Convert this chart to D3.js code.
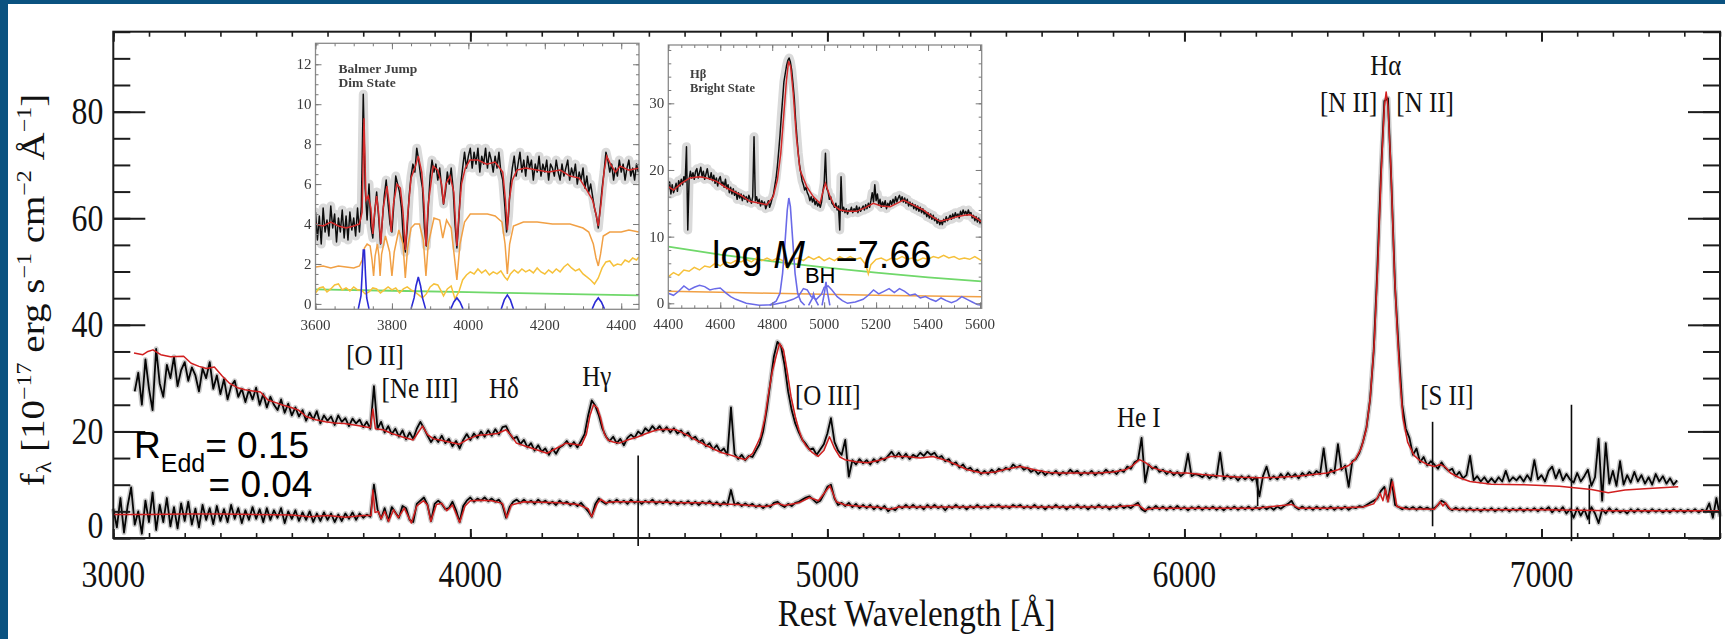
<!DOCTYPE html>
<html>
<head>
<meta charset="utf-8">
<script src="https://cdn.jsdelivr.net/npm/d3@7/dist/d3.min.js"></script>
<style>
  html, body { margin: 0; padding: 0; background: #ffffff; }
  svg { display: block; }
  text { white-space: pre; }
</style>
</head>
<body>
<svg id="chart" width="1725" height="639"></svg>
<script>
// ---------------------------------------------------------------
// Spectra (rest wavelength in Å, flux in 1e-17 erg/s/cm^2/Å)
// ---------------------------------------------------------------
const gridStep = 10;          // sampling of the observed spectra
const brightStart = 3060;     // bright state, observed
const brightFlux = [
  27.5,31.0,25.0,33.5,28.0,24.0,35.5,29.0,26.5,32.5,
  30.0,34.0,28.5,31.5,33.0,29.5,32.0,30.5,27.5,31.8,
  30.0,33.0,28.0,30.5,27.0,29.8,26.0,28.5,29.5,26.5,
  28.0,25.5,27.8,26.0,28.2,25.0,27.0,24.5,26.5,25.0,
  24.0,26.0,23.5,25.2,23.0,24.5,22.8,24.0,22.0,23.5,
  22.2,23.8,21.5,23.0,22.0,22.8,21.2,23.0,21.8,22.5,
  21.0,22.4,21.5,22.2,20.8,21.8,20.5,28.5,20.5,21.8,
  19.8,21.0,19.5,20.5,19.0,20.2,18.5,19.8,18.6,20.5,
  21.8,20.6,19.2,18.0,19.0,18.0,19.2,17.8,18.6,17.2,
  18.2,16.8,18.4,19.5,18.4,19.6,18.8,20.0,19.0,20.2,
  19.2,20.4,19.4,20.8,21.0,19.6,18.6,19.0,17.6,18.4,
  17.0,17.8,16.4,17.4,16.2,16.8,15.6,16.8,15.8,17.0,
  17.4,18.2,17.2,18.0,17.0,18.2,19.5,23.0,25.8,24.8,
  23.0,20.5,19.0,18.2,19.0,17.8,18.6,17.4,18.8,19.4,
  18.8,20.0,19.4,20.6,20.0,21.0,20.2,21.0,20.0,20.8,
  19.8,20.6,19.6,20.2,19.2,19.8,18.6,19.0,18.0,18.4,
  17.2,17.8,16.6,17.4,16.2,16.8,15.6,24.5,15.8,14.8,
  15.6,14.6,15.4,15.2,16.4,17.6,20.0,24.0,29.0,34.0,
  36.8,36.0,32.5,27.5,24.0,21.5,19.8,18.4,17.6,16.6,
  16.8,15.6,16.6,17.6,19.6,22.5,18.0,16.4,15.6,18.4,
  11.5,14.6,13.8,14.8,14.0,14.6,13.8,14.8,14.2,15.0,
  14.6,15.4,16.2,15.2,16.0,15.0,15.8,14.8,15.6,15.2,
  16.0,15.4,16.2,15.6,16.0,15.0,15.4,14.4,14.8,13.8,
  14.2,13.2,13.8,12.8,13.2,12.4,12.8,12.0,12.6,12.0,
  12.8,12.2,13.0,12.6,13.2,12.8,13.8,13.2,13.6,12.8,
  13.2,12.4,12.8,12.0,12.6,11.8,12.4,12.0,12.6,11.8,
  12.4,12.0,12.8,12.2,12.6,11.8,12.4,12.0,12.6,11.8,
  12.4,12.0,12.8,12.2,12.6,12.0,12.8,12.4,13.4,13.0,
  14.2,14.6,18.8,10.5,13.8,13.0,13.4,12.4,12.8,12.0,
  12.6,11.8,12.4,11.6,12.2,15.8,11.6,12.0,11.8,11.4,
  12.0,11.2,11.8,11.4,16.0,11.0,11.8,11.2,11.6,10.8,
  11.6,11.0,11.6,10.8,11.4,7.8,11.6,13.4,11.0,11.6,
  11.0,12.0,11.2,12.2,11.4,12.0,11.2,12.2,11.6,12.4,
  11.8,12.6,12.0,16.8,11.6,12.8,12.2,17.6,12.8,13.6,
  9.6,14.4,14.8,16.0,18.0,20.8,26.0,35.0,50.0,68.0,
  82.0,82.5,66.0,47.0,35.5,25.0,20.5,18.8,15.6,16.8,
  14.2,15.2,13.6,14.4,13.8,13.0,14.2,13.2,12.6,13.0,
  11.6,12.4,11.2,11.8,15.4,10.8,11.6,10.6,11.4,10.4,
  11.2,10.4,11.4,10.6,12.6,10.6,11.4,10.8,11.6,10.6,
  11.8,10.8,14.6,11.0,11.8,10.6,12.6,13.4,11.2,12.8,
  10.8,12.0,11.0,10.4,12.2,10.6,11.6,12.8,9.8,11.4,
  18.6,7.0,17.8,10.2,12.6,9.8,14.4,10.0,11.8,10.4,
  12.4,10.6,11.8,10.2,11.4,10.0,12.0,10.6,11.6,10.2,
  11.2,10.0,10.8
];

const dimStart = 3000;        // dim state, observed
const dimFlux = [
  5.5,2.0,7.5,1.0,6.0,9.5,2.5,5.0,0.8,7.0,
  3.0,8.5,1.5,6.2,3.0,7.5,2.2,5.8,1.8,6.5,
  3.2,6.8,2.5,5.5,2.0,6.2,3.4,5.6,2.6,6.0,
  3.2,5.4,3.0,6.2,3.6,5.6,2.8,5.2,3.4,5.8,
  3.6,5.4,3.0,5.6,3.4,5.2,3.8,5.6,2.8,5.0,
  3.6,5.2,3.2,4.8,3.4,5.0,3.0,4.6,3.2,4.8,
  3.4,4.6,3.0,4.4,3.2,4.6,3.6,4.8,3.4,4.6,
  3.8,4.4,4.0,10.0,5.4,3.6,5.6,3.2,5.8,4.8,
  3.8,6.0,5.6,3.4,3.0,6.4,7.0,7.6,6.2,3.2,
  6.4,7.0,6.4,5.4,5.6,6.8,5.2,3.0,6.0,7.0,
  7.6,6.8,7.4,7.0,7.6,6.9,7.4,6.8,7.2,6.2,
  3.8,5.8,6.8,7.2,6.6,7.2,6.6,7.0,6.4,7.2,
  6.6,7.0,6.4,6.8,6.2,7.0,6.4,6.8,6.2,6.6,
  6.0,6.6,5.8,5.0,4.0,6.4,7.4,6.8,6.4,7.0,
  6.6,7.2,6.6,7.0,6.4,7.2,6.6,7.0,6.4,7.0,
  6.6,7.2,6.4,6.9,6.5,7.1,6.4,6.9,6.3,6.8,
  6.4,6.9,6.3,6.8,6.2,6.8,6.4,6.9,6.2,6.7,
  6.1,6.7,6.2,9.0,6.2,6.6,6.0,6.5,6.0,6.4,
  5.8,6.2,5.6,6.2,5.8,6.6,6.8,6.2,5.8,6.4,
  6.0,6.6,6.8,7.2,7.6,7.8,7.2,6.6,7.0,8.2,
  9.6,10.0,7.4,6.2,6.6,6.0,6.6,5.8,6.4,5.6,
  6.2,5.6,6.2,5.4,6.0,5.4,6.0,5.0,5.6,5.2,
  6.0,5.6,6.2,5.6,6.2,5.6,6.0,5.4,6.2,5.6,
  6.2,5.6,6.0,5.2,6.0,5.6,6.2,5.6,6.0,5.4,
  6.0,5.6,6.2,5.6,6.0,5.6,6.2,5.8,6.2,5.6,
  6.0,5.6,6.2,5.8,6.2,5.6,6.0,5.6,6.2,5.6,
  6.0,5.4,6.0,5.6,6.2,5.6,6.0,5.4,6.0,5.6,
  6.2,5.6,6.0,5.4,6.0,5.6,6.2,5.6,6.0,5.4,
  6.0,5.6,6.2,5.6,6.0,5.6,6.2,6.6,5.4,5.0,
  5.8,5.4,6.0,5.4,5.9,5.3,5.9,5.4,6.0,5.4,
  5.8,5.2,5.8,5.4,5.9,5.3,5.8,5.4,5.9,5.3,
  5.8,5.2,5.8,5.4,5.9,5.3,5.8,5.4,5.9,5.3,
  5.8,5.4,5.9,5.4,5.8,5.3,5.9,5.5,6.0,6.4,
  7.0,5.8,5.4,5.9,5.4,5.8,5.3,5.9,5.4,5.8,
  5.4,5.9,5.3,5.8,5.4,5.9,5.3,5.8,5.6,6.0,
  5.8,6.2,6.6,7.0,7.4,8.8,9.6,7.0,11.0,6.2,
  5.8,5.4,5.8,5.4,5.8,5.3,5.8,5.4,5.7,5.3,
  5.6,6.2,7.0,6.6,5.6,5.2,5.7,5.2,5.6,5.1,
  5.6,5.1,5.5,5.0,5.5,5.1,5.6,5.0,5.5,5.1,
  5.6,5.0,5.5,5.1,5.6,5.0,5.5,5.1,5.6,5.0,
  5.6,5.2,5.8,4.8,5.6,5.0,5.8,4.6,5.4,3.8,
  5.6,4.2,5.4,3.6,5.8,4.6,2.8,5.4,4.6,5.6,
  4.8,5.4,4.8,5.2,4.6,5.4,4.8,5.4,4.9,5.3,
  4.8,5.4,4.9,5.3,4.8,5.3,4.8,5.4,4.9,5.3,
  4.8,5.3,4.9,5.4,4.8,5.3,5.0,6.5,3.8,7.5,
  4.0
];

// best-fit models [wavelength, flux]
const brightModel = [
  [3058,34.7],[3083,34.4],[3097,35.0],[3111,35.3],[3133,34.4],[3160,34.0],[3197,34.1],[3218,32.8],
  [3240,32.2],[3261,31.8],[3283,32.1],[3305,30.4],[3326,29.0],[3348,28.2],[3369,27.8],[3390,27.6],
  [3412,27.4],[3433,25.9],[3455,25.4],[3476,24.9],[3498,24.5],[3519,24.0],[3540,22.8],[3567,22.2],
  [3594,21.8],[3620,21.6],[3647,21.5],[3675,21.2],[3701,20.9],[3720,20.7],[3727,24.2],[3734,20.5],
  [3755,20.3],[3780,19.6],[3808,19.0],[3840,18.4],[3852,19.6],[3866,21.0],[3880,19.4],[3897,18.6],
  [3915,18.4],[3940,18.0],[3969,17.6],[3995,18.6],[4022,19.3],[4050,19.4],[4076,19.6],[4100,20.3],
  [4115,19.2],[4129,17.8],[4155,17.2],[4183,16.6],[4215,15.9],[4240,16.8],[4268,17.8],[4290,17.6],
  [4311,17.4],[4325,19.5],[4335,23.0],[4345,25.0],[4356,24.4],[4365,22.5],[4375,19.6],[4385,18.4],
  [4400,18.0],[4417,17.8],[4440,18.4],[4470,19.0],[4500,19.8],[4524,20.3],[4550,20.4],[4577,20.3],
  [4605,19.4],[4631,18.4],[4657,17.5],[4684,16.6],[4705,16.0],[4727,15.6],[4750,15.1],[4770,14.7],
  [4791,15.9],[4813,19.0],[4825,22.5],[4834,26.6],[4845,31.0],[4856,34.0],[4866,36.5],[4877,35.3],
  [4888,31.0],[4898,26.6],[4910,22.8],[4920,20.3],[4930,18.4],[4941,17.2],[4958,16.0],[4974,15.3],
  [4990,16.4],[5006,19.0],[5020,16.8],[5035,15.2],[5049,14.7],[5080,14.3],[5113,14.1],[5145,14.6],
  [5177,15.3],[5220,15.3],[5260,15.0],[5295,15.3],[5327,14.7],[5360,13.8],[5392,12.8],[5434,12.2],
  [5470,12.4],[5505,13.0],[5541,13.4],[5580,12.8],[5620,12.3],[5649,12.2],[5700,12.2],[5756,12.2],
  [5800,12.4],[5835,12.8],[5855,13.6],[5874,14.7],[5890,14.2],[5910,13.2],[5940,12.6],[5970,12.2],
  [6006,12.2],[6050,11.9],[6109,11.6],[6160,11.4],[6211,11.3],[6260,11.4],[6314,11.6],[6360,11.9],
  [6400,12.2],[6430,12.8],[6460,13.6],[6478,14.7],[6495,16.8],[6509,20.3],[6520,26.0],[6532,37.0],
  [6542,52.0],[6552,70.0],[6560,81.0],[6565,83.7],[6570,81.0],[6578,70.0],[6588,50.0],[6596,39.0],
  [6605,28.5],[6612,22.5],[6625,18.0],[6643,15.5],[6660,14.5],[6680,13.8],[6700,13.4],[6716,13.8],
  [6731,13.3],[6745,12.2],[6770,11.3],[6800,10.6],[6860,10.1],[6950,10.0],[7050,9.7],[7140,9.1],
  [7187,8.5],[7234,9.0],[7300,9.3],[7383,9.6]
];

const dimModel = [
  [3000,4.4],[3100,4.4],[3200,4.5],[3300,4.5],[3400,4.4],[3500,4.3],[3550,4.0],[3600,4.2],[3650,3.9],
  [3700,4.2],[3722,4.2],[3727,9.0],[3733,4.8],[3742,5.0],[3750,3.6],[3760,5.0],[3771,3.1],[3785,5.3],
  [3798,3.8],[3815,5.6],[3835,2.8],[3850,6.0],[3869,7.0],[3880,6.2],[3889,3.1],[3905,6.3],[3920,6.5],
  [3934,5.1],[3950,6.2],[3970,2.9],[3985,6.0],[4000,7.0],[4030,7.1],[4060,7.0],[4090,6.5],[4102,3.8],
  [4115,6.2],[4150,6.8],[4200,6.7],[4250,6.6],[4300,6.3],[4330,5.5],[4340,4.0],[4355,6.4],[4365,7.3],
  [4380,6.6],[4400,6.8],[4450,6.8],[4500,6.8],[4550,6.7],[4600,6.6],[4650,6.6],[4700,6.4],[4750,6.3],
  [4800,6.0],[4830,5.9],[4861,6.5],[4880,6.1],[4920,6.6],[4950,7.6],[4975,7.0],[5007,9.8],[5025,6.8],
  [5050,6.2],[5100,5.9],[5150,5.7],[5177,5.4],[5200,5.8],[5300,5.8],[5400,5.8],[5500,5.9],[5600,5.8],
  [5700,5.8],[5800,5.8],[5870,6.2],[5890,5.3],[5910,5.6],[6000,5.6],[6100,5.6],[6200,5.6],[6300,6.3],
  [6320,5.6],[6400,5.6],[6500,5.8],[6530,6.4],[6548,8.4],[6556,7.0],[6563,9.2],[6570,6.8],[6583,10.6],
  [6595,5.9],[6620,5.5],[6700,5.4],[6716,6.8],[6724,6.0],[6731,6.6],[6745,5.4],[6800,5.3],[6900,5.3],
  [7000,5.3],[7100,5.2],[7200,5.1],[7300,5.1],[7400,5.1],[7500,5.1]
];

// single-pixel artefacts: [wavelength, low flux, high flux]
const artifactLines = [[4470,-1.5,15.5],[6205,6.0,11.4],[6695,2.2,21.8],[7084,-0.6,25.0],[7134,2.6,10.0]];

// emission-line identifications: name, wavelength, flux level of the label baseline
const lineNames  = ["[O II]","[Ne III]","Hδ","Hγ","[O III]","He I","Hα","[N II]","[N II]","[S II]"];
const lineWaves  = [3733, 3859, 4094, 4354, 5001, 5872, 6564, 6460, 6674, 6735];
const lineLevels = [32.5, 26.3, 26.3, 28.6, 25.0, 20.9, 86.9, 79.9, 79.9, 25.0];

const xMajorTicks = [3000, 4000, 5000, 6000, 7000];
const yMajorTicks = [0, 20, 40, 60, 80];

// ---------------------------------------------------------------
// Inset 1: Balmer-jump region, dim state
// ---------------------------------------------------------------
const inset1Step = 5, inset1Start = 3600;
const inset1Flux = [
  4.6,3.2,4.4,3.0,4.8,3.6,4.2,3.4,4.9,3.8,
  4.5,3.1,4.3,3.6,4.7,3.3,4.4,3.2,4.6,3.7,
  4.3,3.4,4.8,3.6,4.9,10.5,5.8,4.2,6.0,3.9,
  3.3,4.6,5.6,4.4,3.0,4.2,5.4,6.2,5.0,4.0,
  3.6,5.0,6.4,6.0,5.6,4.8,3.2,2.6,3.8,5.4,
  6.4,7.0,6.6,7.8,7.2,6.4,5.8,3.8,2.9,4.8,
  6.4,7.2,6.6,7.0,6.2,6.8,5.8,5.0,5.6,6.6,
  6.0,6.8,5.8,4.0,2.8,4.2,6.0,6.8,7.6,6.8,
  7.4,7.8,6.8,7.6,7.0,7.8,6.6,7.4,7.0,7.8,
  6.8,7.6,7.2,6.6,7.4,6.8,7.6,6.6,6.2,5.0,
  3.6,4.4,6.0,6.8,7.4,6.4,7.0,7.6,6.6,7.2,
  6.4,7.4,6.8,7.2,6.2,7.0,6.6,7.4,6.4,7.0,
  6.6,7.2,6.2,7.0,6.8,6.4,7.2,6.6,6.2,7.0,
  6.4,6.8,7.2,6.2,6.8,6.4,7.0,6.0,6.6,6.2,
  6.8,5.8,6.4,5.6,6.0,5.4,4.8,4.4,3.8,4.8,
  5.8,6.6,7.6,7.2,6.6,7.0,6.2,6.8,6.4,7.2,
  6.6,7.0,6.2,6.8,7.2,6.4,6.8,6.2,7.0,6.6
];
const inset1Model = [
  [3600,4.0],[3620,3.9],[3640,4.1],[3660,3.9],[3680,3.8],[3700,3.9],[3715,4.0],[3722,4.6],[3727,9.3],
  [3732,5.2],[3738,5.4],[3745,4.8],[3750,3.5],[3755,4.6],[3760,5.4],[3765,4.6],[3771,3.0],[3777,4.8],
  [3787,5.9],[3793,5.0],[3798,3.6],[3804,5.0],[3813,6.0],[3822,5.8],[3829,4.6],[3835,2.7],[3841,4.4],
  [3850,6.3],[3860,6.8],[3869,7.4],[3878,6.6],[3884,5.0],[3889,2.9],[3895,5.0],[3908,6.9],[3920,6.7],
  [3930,6.0],[3935,5.0],[3941,6.0],[3952,6.4],[3962,5.6],[3966,4.2],[3970,2.9],[3975,4.4],[3982,6.0],
  [3992,6.8],[4004,7.2],[4025,7.2],[4048,7.0],[4070,7.1],[4090,6.6],[4097,5.2],[4102,3.7],[4107,5.2],
  [4115,6.2],[4127,6.7],[4150,6.8],[4179,6.7],[4210,6.6],[4240,6.7],[4266,6.4],[4290,6.3],[4310,5.7],
  [4325,5.2],[4334,4.5],[4340,3.9],[4347,5.0],[4355,6.6],[4362,7.4],[4372,7.0],[4385,6.6],[4397,6.9],
  [4420,6.7],[4446,6.8]
];
const inset1Host = [
  [3600,1.85],[3620,1.9],[3640,1.8],[3660,1.9],[3680,1.85],[3700,1.8],[3715,1.9],[3722,2.2],[3728,2.8],
  [3735,3.0],[3743,2.9],[3748,2.2],[3752,1.4],[3756,2.4],[3762,3.0],[3766,2.4],[3769,1.4],[3773,2.5],
  [3783,3.4],[3794,2.6],[3800,1.4],[3806,2.6],[3818,3.7],[3829,3.0],[3835,1.3],[3841,2.8],[3850,3.8],
  [3860,4.0],[3872,4.0],[3882,3.2],[3889,1.4],[3895,3.0],[3910,4.3],[3925,4.2],[3933,3.3],[3943,4.2],
  [3955,3.8],[3962,2.6],[3970,1.2],[3978,3.0],[3990,4.1],[4005,4.5],[4030,4.5],[4050,4.5],[4070,4.4],
  [4088,4.1],[4096,3.0],[4102,1.5],[4108,3.0],[4118,3.9],[4144,4.1],[4180,4.1],[4220,4.0],[4266,4.0],
  [4300,3.8],[4315,3.6],[4327,3.0],[4334,2.3],[4340,1.9],[4346,2.5],[4353,3.4],[4370,3.6],[4400,3.6],
  [4420,3.7],[4446,3.6]
];
const inset1Agn = [
  [3600,0.55],[3610,0.8],[3620,0.85],[3630,0.6],[3640,0.75],[3650,0.95],[3660,1.0],[3670,0.7],[3680,0.8],
  [3690,0.65],[3700,0.85],[3710,0.7],[3720,0.7],[3730,0.5],[3740,0.6],[3750,0.8],[3760,0.75],[3770,0.55],
  [3780,0.7],[3790,0.85],[3800,0.7],[3810,0.8],[3820,0.55],[3830,0.75],[3840,0.85],[3850,0.7],[3860,0.6],
  [3870,0.45],[3880,0.3],[3890,0.5],[3900,0.85],[3910,1.0],[3920,0.95],[3930,0.6],[3935,0.4],[3945,0.75],
  [3955,0.9],[3965,0.25],[3975,0.6],[3985,1.2],[3995,1.45],[4005,1.6],[4015,1.5],[4025,1.75],[4035,1.55],
  [4045,1.7],[4055,1.45],[4065,1.6],[4075,1.5],[4085,1.65],[4095,1.35],[4102,1.2],[4110,1.5],[4120,1.7],
  [4130,1.55],[4140,1.75],[4150,1.6],[4160,1.7],[4170,1.55],[4180,1.8],[4190,1.6],[4200,1.5],[4210,1.7],
  [4220,1.55],[4230,1.75],[4240,1.6],[4250,1.85],[4260,2.0],[4270,1.8],[4280,1.65],[4290,1.75],[4300,1.5],
  [4310,1.35],[4320,1.2],[4330,1.0],[4340,1.3],[4350,1.8],[4360,2.1],[4370,2.15],[4380,1.9],[4390,2.0],
  [4400,1.95],[4410,2.2],[4420,2.1],[4430,2.3],[4440,2.2],[4446,2.35]
];
const inset1PowerLaw = [[3600,0.73],[3800,0.66],[4000,0.59],[4200,0.51],[4446,0.43]];
const inset1Lines = [
  [[3712,-0.25],[3719,0.4],[3722,1.5],[3725,2.7],[3728,2.7],[3731,1.4],[3734,0.3],[3740,-0.25]],
  [[3850,-0.25],[3858,0.3],[3863,0.9],[3869,1.35],[3875,0.9],[3880,0.3],[3888,-0.25]],
  [[3954,-0.25],[3962,0.1],[3970,0.3],[3978,0.1],[3986,-0.25]],
  [[4086,-0.25],[4094,0.2],[4102,0.45],[4110,0.2],[4118,-0.25]],
  [[4324,-0.25],[4332,0.1],[4340,0.3],[4348,0.1],[4356,-0.25]]
];
const inset1XTicks = [3600, 3800, 4000, 4200, 4400];
const inset1YTicks = [0, 2, 4, 6, 8, 10, 12];
const inset1Caption = ["Balmer Jump", "Dim State"];

// ---------------------------------------------------------------
// Inset 2: H-beta region, bright state
// ---------------------------------------------------------------
const inset2Step = 5, inset2Start = 4400;
const inset2Flux = [
  17.0,18.2,16.4,17.8,16.6,17.2,18.0,16.8,18.4,17.6,
  18.6,17.8,19.0,18.2,23.5,11.0,18.6,19.8,18.8,19.6,
  18.6,19.8,20.2,18.8,19.6,20.4,19.0,19.8,18.6,19.4,
  20.2,19.0,18.6,19.6,18.4,19.2,18.0,18.8,17.6,18.6,
  19.0,17.8,18.2,17.4,18.6,17.2,17.8,16.6,17.4,16.4,
  17.2,16.2,16.8,15.6,16.6,15.8,16.4,15.4,16.2,15.6,
  16.0,15.2,16.2,15.6,15.0,16.0,25.0,15.4,16.0,15.0,
  15.6,14.6,15.4,14.8,15.2,14.2,14.8,15.4,14.4,15.0,
  15.8,16.4,17.6,18.8,20.6,22.8,25.2,28.0,30.6,33.2,
  34.4,35.6,36.4,36.8,36.2,35.0,33.0,30.8,27.6,25.0,
  22.6,20.8,19.6,18.4,17.8,17.0,17.4,16.6,16.2,15.4,
  16.0,15.2,15.8,14.8,15.4,14.6,15.0,14.4,15.2,16.8,
  18.0,22.5,17.2,16.8,15.6,16.0,15.0,14.8,14.4,15.0,
  14.0,14.6,11.0,19.0,13.8,14.4,13.6,14.2,13.4,14.0,
  13.8,14.4,13.6,14.2,13.8,14.6,13.6,14.4,13.8,14.2,
  14.6,14.0,14.8,14.2,15.0,14.4,15.4,16.6,15.2,17.8,
  15.4,16.4,14.8,15.6,14.4,15.2,14.6,15.4,14.2,15.0,
  14.6,15.4,14.8,15.6,15.0,16.0,15.2,15.8,16.2,15.4,
  16.0,15.2,15.8,15.0,15.6,14.6,15.2,14.6,15.0,14.2,
  14.8,14.0,14.6,13.8,14.4,13.6,14.2,13.4,13.8,13.0,
  13.6,12.8,13.4,12.6,13.2,12.4,12.8,12.0,12.6,11.8,
  12.4,11.8,12.6,12.2,13.0,12.4,12.8,13.2,12.6,13.4,
  12.8,13.6,13.0,13.4,12.8,13.8,13.2,14.0,13.4,13.8,
  13.2,14.0,13.4,13.6,12.8,13.2,12.4,13.0,12.2,12.8,
  12.0,12.6
];
const inset2Model = [
  [4400,17.5],[4420,17.0],[4450,18.0],[4483,18.8],[4520,19.0],[4548,18.8],[4586,18.3],[4625,17.3],
  [4676,16.3],[4714,15.3],[4753,15.0],[4779,14.8],[4804,16.0],[4820,18.5],[4833,22.5],[4845,28.5],
  [4855,33.5],[4863,36.3],[4871,35.5],[4881,31.5],[4893,25.0],[4907,20.0],[4933,17.5],[4958,16.0],
  [4984,15.0],[4997,17.0],[5005,18.0],[5023,16.0],[5040,14.6],[5061,14.0],[5090,13.8],[5125,13.8],
  [5160,14.4],[5189,15.0],[5220,14.6],[5254,14.5],[5280,15.0],[5305,15.5],[5340,14.8],[5382,14.0],
  [5415,13.0],[5446,12.3],[5480,12.6],[5510,13.0],[5540,13.2],[5562,13.3],[5585,12.8],[5606,12.2]
];
const inset2Host = [[4400,1.8],[4600,1.65],[4800,1.5],[5000,1.35],[5200,1.2],[5400,1.1],[5606,1.0]];
const inset2Agn = [
  [4400,4.0],[4420,4.6],[4440,4.2],[4460,5.0],[4480,4.8],[4500,5.4],[4520,5.0],[4540,5.6],[4560,5.4],
  [4580,6.0],[4600,5.6],[4620,6.2],[4640,6.0],[4660,6.4],[4680,6.2],[4700,6.6],[4720,6.2],[4740,6.8],
  [4760,6.4],[4780,6.8],[4800,6.4],[4820,6.8],[4840,6.4],[4860,5.2],[4880,6.6],[4900,6.8],[4920,6.4],
  [4940,7.0],[4960,6.6],[4980,7.0],[5000,6.4],[5020,6.8],[5040,6.4],[5060,7.0],[5080,6.6],[5100,7.0],
  [5120,6.6],[5140,6.8],[5160,5.8],[5170,4.4],[5180,5.8],[5200,6.6],[5220,6.8],[5240,6.4],[5260,6.8],
  [5280,6.6],[5300,7.0],[5320,6.6],[5340,6.8],[5360,6.4],[5380,6.8],[5400,6.6],[5420,7.0],[5440,6.8],
  [5460,7.2],[5480,6.8],[5500,7.0],[5520,6.6],[5540,6.8],[5560,6.6],[5580,7.0],[5606,6.4]
];
const inset2PowerLaw = [[4400,8.5],[4600,7.3],[4800,6.3],[5000,5.4],[5200,4.6],[5400,3.9],[5606,3.3]];
const inset2FeII = [
  [4400,1.5],[4420,1.2],[4440,1.8],[4460,2.6],[4480,2.0],[4500,2.4],[4520,2.7],[4540,2.5],[4560,2.0],
  [4580,2.2],[4600,2.3],[4620,1.6],[4640,1.0],[4660,0.6],[4680,0.3],[4700,0.0],[4750,-0.3],[4800,-0.2],
  [4850,0.2],[4880,0.6],[4900,1.0],[4920,2.2],[4935,2.0],[4950,1.0],[4970,0.6],[4990,1.4],[5000,2.4],
  [5015,2.6],[5030,2.0],[5050,1.0],[5070,0.4],[5090,0.0],[5120,0.2],[5150,0.6],[5170,1.2],[5190,2.0],
  [5210,1.4],[5230,1.8],[5250,2.2],[5270,1.6],[5290,2.2],[5310,1.8],[5330,1.2],[5350,1.4],[5370,0.8],
  [5390,1.0],[5410,0.6],[5430,0.3],[5450,0.8],[5470,0.4],[5490,0.1],[5510,0.4],[5530,1.0],[5550,0.6],
  [5570,0.2],[5590,-0.2],[5606,-0.3]
];
const inset2Lines = [
  [[4790,-0.3],[4815,0.3],[4830,1.5],[4840,4.5],[4850,9.5],[4858,14.0],[4864,15.8],[4870,14.5],
   [4878,10.0],[4888,4.5],[4898,1.5],[4910,0.3],[4925,-0.3]],
  [[4940,-0.3],[4954,0.7],[4959,1.4],[4964,0.7],[4978,-0.3]],
  [[4992,-0.3],[5002,1.8],[5007,3.2],[5012,1.8],[5022,-0.3]]
];
const inset2XTicks = [4400, 4600, 4800, 5000, 5200, 5400, 5600];
const inset2YTicks = [0, 10, 20, 30];
const inset2Caption = ["Hβ", "Bright State"];

// ---------------------------------------------------------------
// Drawing
// ---------------------------------------------------------------
const SERIF = "'Liberation Serif', 'Times New Roman', Times, serif";
const SANS = "'Liberation Sans', Arial, Helvetica, sans-serif";
const SQUEEZE = 0.86;   // the printed figure uses a narrow serif face
const svg = d3.select("#chart");

const defs = svg.append("defs");
defs.append("filter").attr("id", "soft")
  .attr("x", "-5%").attr("y", "-5%").attr("width", "110%").attr("height", "110%")
  .append("feGaussianBlur").attr("stdDeviation", 0.45);

// slide frame
svg.append("rect").attr("x", 0).attr("y", 0).attr("width", 1725).attr("height", 639).attr("fill", "#ffffff");
svg.append("rect").attr("x", 0).attr("y", 0).attr("width", 8).attr("height", 639).attr("fill", "#0a5280");
svg.append("rect").attr("x", 0).attr("y", 0).attr("width", 1725).attr("height", 4).attr("fill", "#0a5280");

// main panel
const M = { left: 113.3, right: 1720, top: 31.7, bottom: 538 };
const x = d3.scaleLinear().domain([3000, 7500]).range([M.left, M.right]);
const y = d3.scaleLinear().domain([0, 95]).range([M.bottom, M.top]);

const gridSeries = (start, step, vals) => vals.map((f, i) => [start + i * step, f]);
const line = d3.line().x(d => x(d[0])).y(d => y(d[1]));

const spectra = svg.append("g");
const drawObserved = (pts) => {
  spectra.append("path").attr("d", line(pts)).attr("fill", "none")
    .attr("stroke", "#6a6a6a").attr("stroke-opacity", 0.35).attr("stroke-width", 5)
    .attr("stroke-linejoin", "round");
  spectra.append("path").attr("d", line(pts)).attr("fill", "none")
    .attr("stroke", "#050505").attr("stroke-width", 1.8).attr("stroke-linejoin", "round");
};
const drawModel = (pts) => {
  spectra.append("path").attr("d", line(pts)).attr("fill", "none")
    .attr("stroke", "#d11f1f").attr("stroke-width", 1.5).attr("stroke-linejoin", "round");
};
drawObserved(gridSeries(brightStart, gridStep, brightFlux));
drawObserved(gridSeries(dimStart, gridStep, dimFlux));
spectra.selectAll("line.art").data(artifactLines).join("line").attr("class", "art")
  .attr("x1", d => x(d[0])).attr("x2", d => x(d[0]))
  .attr("y1", d => y(d[1])).attr("y2", d => y(d[2]))
  .attr("stroke", "#0a0a0a").attr("stroke-width", 1.6);
drawModel(brightModel);
drawModel(dimModel);

// axes box and ticks (ticks point inward)
const AX = "#1c1c1c";
svg.append("rect").attr("x", M.left).attr("y", M.top)
  .attr("width", M.right - M.left).attr("height", M.bottom - M.top)
  .attr("fill", "none").attr("stroke", AX).attr("stroke-width", 2);

function tickSet(axis, tx, ty, width, color) {
  const g = svg.append("g").attr("transform", `translate(${tx},${ty})`).call(axis);
  g.select(".domain").remove();
  g.selectAll("text").remove();
  g.selectAll("line").attr("stroke", color).attr("stroke-width", width);
  return g;
}
const xMinorTicks = d3.range(3000, 7501, 100);
const yMinorTicks = d3.range(0, 95.1, 5);
tickSet(d3.axisBottom(x).tickValues(xMinorTicks).tickSize(-5), 0, M.bottom, 1.6, AX);
tickSet(d3.axisBottom(x).tickValues(xMajorTicks).tickSize(-9), 0, M.bottom, 2, AX);
tickSet(d3.axisTop(x).tickValues(xMinorTicks).tickSize(-5), 0, M.top, 1.6, AX);
tickSet(d3.axisTop(x).tickValues(xMajorTicks).tickSize(-10), 0, M.top, 2, AX);
tickSet(d3.axisLeft(y).tickValues(yMinorTicks).tickSize(-17), M.left, 0, 2, AX);
tickSet(d3.axisLeft(y).tickValues(yMajorTicks).tickSize(-32), M.left, 0, 2, AX);
tickSet(d3.axisRight(y).tickValues(yMinorTicks).tickSize(-17), M.right, 0, 2, AX);
tickSet(d3.axisRight(y).tickValues(yMajorTicks).tickSize(-32), M.right, 0, 2, AX);

function squeezed(parent, tx, ty, str, size, anchor) {
  return parent.append("text")
    .attr("transform", `translate(${tx},${ty}) scale(${SQUEEZE},1)`)
    .attr("text-anchor", anchor).attr("font-family", SERIF)
    .attr("font-size", size).attr("fill", "#111").text(str);
}
const labels = svg.append("g");
xMajorTicks.forEach(v => squeezed(labels, x(v), 586.7, String(v), 37, "middle"));
yMajorTicks.forEach(v => squeezed(labels, M.left - 10, Math.min(y(v) + 12.5, y(0)), String(v), 37, "end"));
squeezed(labels, (M.left + M.right) / 2, 626, "Rest Wavelength [Å]", 38.5, "middle");

// y-axis title
const yt = labels.append("text")
  .attr("transform", `translate(44,290) scale(${SQUEEZE},1) rotate(-90)`)
  .attr("text-anchor", "middle").attr("font-family", SERIF)
  .attr("font-size", 39).attr("fill", "#111");
const SUP = 24;
yt.append("tspan").text("f");
yt.append("tspan").attr("font-size", SUP).attr("dy", 8).text("λ");
yt.append("tspan").attr("dy", -8).text(" [10");
yt.append("tspan").attr("font-size", SUP).attr("dy", -15).text("−17");
yt.append("tspan").attr("dy", 15).text(" erg s");
yt.append("tspan").attr("font-size", SUP).attr("dy", -15).text("−1");
yt.append("tspan").attr("dy", 15).text(" cm");
yt.append("tspan").attr("font-size", SUP).attr("dy", -15).text("−2");
yt.append("tspan").attr("dy", 15).text(" Å");
yt.append("tspan").attr("font-size", SUP).attr("dy", -15).text("−1");
yt.append("tspan").attr("dy", 15).text("]");

// emission-line identifications
lineNames.forEach((name, i) => squeezed(labels, x(lineWaves[i]), y(lineLevels[i]), name, 29, "middle"));

// ---------------------------------------------------------------
// Insets
// ---------------------------------------------------------------
function drawInset(box, xDom, yDom, cfg) {
  const ix = d3.scaleLinear().domain(xDom).range([box.l, box.r]);
  const iy = d3.scaleLinear().domain(yDom).range([box.b, box.t]);
  const il = d3.line().x(d => ix(d[0])).y(d => iy(d[1]));
  const g = svg.append("g").attr("filter", "url(#soft)");
  const clipId = "clip-" + cfg.id;
  defs.append("clipPath").attr("id", clipId).append("rect")
    .attr("x", box.l).attr("y", box.t).attr("width", box.r - box.l).attr("height", box.b - box.t);

  g.append("rect").attr("x", box.l).attr("y", box.t)
    .attr("width", box.r - box.l).attr("height", box.b - box.t).attr("fill", "#ffffff");

  const body = g.append("g").attr("clip-path", `url(#${clipId})`);
  const obs = cfg.flux.map((f, i) => [cfg.start + i * cfg.step, f]);
  body.append("path").attr("d", il(obs)).attr("fill", "none")
    .attr("stroke", "#dadada").attr("stroke-width", 9).attr("stroke-linejoin", "round").attr("stroke-linecap", "round");
  body.append("path").attr("d", il(obs)).attr("fill", "none")
    .attr("stroke", "#101010").attr("stroke-width", 1.5).attr("stroke-linejoin", "round");
  body.append("path").attr("d", il(cfg.model)).attr("fill", "none")
    .attr("stroke", "#d42a2a").attr("stroke-width", 1.5);
  body.append("path").attr("d", il(cfg.power)).attr("fill", "none")
    .attr("stroke", "#6fd86a").attr("stroke-width", 1.8);
  body.append("path").attr("d", il(cfg.agn)).attr("fill", "none")
    .attr("stroke", "#f6c13a").attr("stroke-width", 1.5);
  body.append("path").attr("d", il(cfg.host)).attr("fill", "none")
    .attr("stroke", "#f1a044").attr("stroke-width", 1.5);
  if (cfg.feii) body.append("path").attr("d", il(cfg.feii)).attr("fill", "none")
    .attr("stroke", cfg.blue).attr("stroke-width", 1.5);
  cfg.lines.forEach(pts => body.append("path").attr("d", il(pts)).attr("fill", "none")
    .attr("stroke", cfg.blue).attr("stroke-width", 1.6));

  // frame and inward ticks on all sides
  const TC = "#7a7a7a";
  g.append("rect").attr("x", box.l).attr("y", box.t)
    .attr("width", box.r - box.l).attr("height", box.b - box.t)
    .attr("fill", "none").attr("stroke", "#8a8a8a").attr("stroke-width", 1.3);
  const put = (axis, tx, ty) => {
    const a = g.append("g").attr("transform", `translate(${tx},${ty})`).call(axis);
    a.select(".domain").remove(); a.selectAll("text").remove();
    a.selectAll("line").attr("stroke", TC).attr("stroke-width", 1);
  };
  const xm = d3.range(xDom[0], xDom[1] + 0.1, cfg.xMinor);
  const ym = d3.range(0, yDom[1], cfg.yMinor);
  put(d3.axisBottom(ix).tickValues(xm).tickSize(-3), 0, box.b);
  put(d3.axisBottom(ix).tickValues(cfg.xTicks).tickSize(-6), 0, box.b);
  put(d3.axisTop(ix).tickValues(xm).tickSize(-3), 0, box.t);
  put(d3.axisTop(ix).tickValues(cfg.xTicks).tickSize(-6), 0, box.t);
  put(d3.axisLeft(iy).tickValues(ym).tickSize(-3), box.l, 0);
  put(d3.axisLeft(iy).tickValues(cfg.yTicks).tickSize(-6), box.l, 0);
  put(d3.axisRight(iy).tickValues(ym).tickSize(-3), box.r, 0);
  put(d3.axisRight(iy).tickValues(cfg.yTicks).tickSize(-6), box.r, 0);

  cfg.xTicks.forEach(v => g.append("text").attr("x", ix(v)).attr("y", box.b + 21)
    .attr("text-anchor", "middle").attr("font-family", SERIF).attr("font-size", 15)
    .attr("fill", "#3a3a3a").text(String(v)));
  cfg.yTicks.forEach(v => g.append("text").attr("x", box.l - 4).attr("y", iy(v) + 5)
    .attr("text-anchor", "end").attr("font-family", SERIF).attr("font-size", 15)
    .attr("fill", "#3a3a3a").text(String(v)));
  cfg.caption.forEach((s, i) => g.append("text")
    .attr("x", box.l + cfg.capDx).attr("y", box.t + cfg.capDy[i])
    .attr("font-family", SERIF).attr("font-weight", "bold").attr("font-size", cfg.capSize)
    .attr("fill", "#404040").text(s));
}

drawInset({ l: 315.5, r: 639, t: 43.3, b: 309.3 }, [3600, 4446.5], [-0.27, 13.05], {
  id: "dim", flux: inset1Flux, start: inset1Start, step: inset1Step,
  model: inset1Model, host: inset1Host, agn: inset1Agn, power: inset1PowerLaw,
  lines: inset1Lines, blue: "#2b2bd6",
  xTicks: inset1XTicks, yTicks: inset1YTicks, xMinor: 50, yMinor: 0.5,
  caption: inset1Caption, capDx: 23, capDy: [29.2, 43.6], capSize: 13.5
});
drawInset({ l: 668.3, r: 981.7, t: 45, b: 308.3 }, [4400, 5606.5], [-0.75, 38.75], {
  id: "bright", flux: inset2Flux, start: inset2Start, step: inset2Step,
  model: inset2Model, host: inset2Host, agn: inset2Agn, power: inset2PowerLaw,
  feii: inset2FeII, lines: inset2Lines, blue: "#6a6ae8",
  xTicks: inset2XTicks, yTicks: inset2YTicks, xMinor: 50, yMinor: 2,
  caption: inset2Caption, capDx: 21.7, capDy: [33, 47], capSize: 12.5
});

// ---------------------------------------------------------------
// Annotations
// ---------------------------------------------------------------
const ann = svg.append("g").attr("font-family", SANS).attr("fill", "#000");
const r1 = ann.append("text").attr("x", 134).attr("y", 458).attr("font-size", 37);
r1.append("tspan").text("R");
r1.append("tspan").attr("font-size", 25).attr("dy", 14).text("Edd");
r1.append("tspan").attr("dy", -14).text("= 0.15");
ann.append("text").attr("x", 208.5).attr("y", 497).attr("font-size", 37).text("= 0.04");

const mb = ann.append("text").attr("x", 712).attr("y", 268).attr("font-size", 38);
mb.append("tspan").text("log ");
mb.append("tspan").attr("font-style", "italic").text("M");
mb.append("tspan").attr("font-size", 22).attr("dy", 15).text("BH");
mb.append("tspan").attr("dy", -15).text("=7.66");
</script>
</body>
</html>
